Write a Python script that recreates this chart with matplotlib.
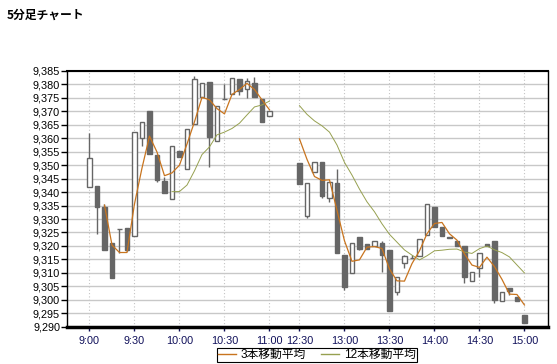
import numpy as np
import matplotlib
matplotlib.use("Agg")
import matplotlib.pyplot as plt
from matplotlib.lines import Line2D
from matplotlib.ticker import FuncFormatter

plt.rcParams['font.family'] = ['Liberation Sans', 'Noto Sans CJK JP', 'DejaVu Sans']

# 5-minute bars, morning session then afternoon session
am_times = ["9:00", "9:05", "9:10", "9:15", "9:20", "9:25", "9:30", "9:35", "9:40", "9:45",
            "9:50", "9:55", "10:00", "10:05", "10:10", "10:15", "10:20", "10:25", "10:30",
            "10:35", "10:40", "10:45", "10:50", "10:55", "11:00"]
pm_times = ["12:30", "12:35", "12:40", "12:45", "12:50", "12:55", "13:00", "13:05", "13:10",
            "13:15", "13:20", "13:25", "13:30", "13:35", "13:40", "13:45", "13:50", "13:55",
            "14:00", "14:05", "14:10", "14:15", "14:20", "14:25", "14:30", "14:35", "14:40",
            "14:45", "14:50", "14:55", "15:00"]

opens = [9342.0, 9342.3, 9334.6, 9321.0, 9326.3, 9326.5, 9323.6, 9360.0, 9370.1, 9353.8,
         9344.3, 9337.3, 9355.3, 9348.5, 9365.2, 9375.2, 9380.8, 9359.0, 9374.5,
         9376.3, 9382.0, 9378.3, 9380.4, 9374.5, 9368.3,
         9350.7, 9331.3, 9347.4, 9351.1, 9338.0, 9343.3, 9316.5, 9309.9, 9323.2,
         9320.7, 9319.8, 9321.0, 9318.5, 9303.0, 9313.6, 9315.5, 9316.3, 9324.1,
         9334.4, 9326.9, 9323.5, 9322.0, 9319.8, 9306.8, 9311.7, 9320.6, 9322.0,
         9299.6, 9304.5, 9301.0, 9294.4]
highs = [9362.0, 9342.3, 9335.5, 9321.0, 9326.3, 9326.5, 9362.2, 9366.2, 9370.1, 9353.8,
         9345.5, 9357.1, 9355.3, 9363.3, 9383.1, 9380.4, 9380.8, 9372.1, 9380.0,
         9382.3, 9382.0, 9382.5, 9382.9, 9374.5, 9370.3,
         9350.7, 9343.3, 9351.1, 9351.1, 9343.9, 9348.6, 9316.5, 9321.0, 9323.2,
         9320.7, 9321.7, 9322.0, 9318.5, 9308.4, 9316.6, 9316.5, 9322.6, 9335.5,
         9334.4, 9326.9, 9323.5, 9322.0, 9319.8, 9310.5, 9317.2, 9320.6, 9322.0,
         9303.0, 9304.5, 9301.0, 9294.4]
lows = [9342.0, 9324.5, 9318.4, 9308.0, 9317.3, 9318.0, 9323.6, 9357.1, 9354.0, 9343.9,
        9339.8, 9337.3, 9353.2, 9348.5, 9365.2, 9375.2, 9349.5, 9359.0, 9374.5,
        9376.3, 9376.1, 9374.8, 9375.5, 9366.0, 9368.3,
        9343.0, 9330.3, 9347.4, 9338.0, 9336.5, 9317.2, 9303.7, 9309.9, 9318.5,
        9318.8, 9319.8, 9310.2, 9296.0, 9301.8, 9311.7, 9315.5, 9316.3, 9324.1,
        9326.9, 9323.8, 9322.9, 9319.8, 9306.1, 9306.8, 9308.4, 9319.8, 9298.7,
        9299.6, 9301.8, 9299.6, 9291.3]
closes = [9352.5, 9334.6, 9318.4, 9308.0, 9326.3, 9318.4, 9362.2, 9366.2, 9354.0, 9344.5,
          9339.8, 9357.1, 9353.2, 9363.3, 9381.9, 9380.4, 9360.6, 9372.1, 9374.5,
          9382.3, 9377.6, 9381.3, 9375.5, 9366.0, 9370.3,
          9343.0, 9343.3, 9351.1, 9338.7, 9343.9, 9317.2, 9304.7, 9321.0, 9318.8,
          9318.8, 9321.7, 9316.7, 9296.0, 9308.4, 9316.4, 9315.5, 9322.6, 9335.5,
          9326.9, 9323.8, 9322.9, 9319.8, 9308.4, 9310.5, 9317.2, 9319.8, 9300.0,
          9303.0, 9303.3, 9299.6, 9291.3]

label_times = ["9:00", "9:30", "10:00", "10:30", "11:00", "12:30",
               "13:00", "13:30", "14:00", "14:30", "15:00"]


def to_min(t):
    h, m = t.split(":")
    return int(h) * 60 + int(m)


# slot positions: lunch break shown as a 3-slot gap
gap = 3
slot = {}
for t in am_times:
    slot[t] = (to_min(t) - to_min("9:00")) // 5
for t in pm_times:
    slot[t] = len(am_times) + gap + (to_min(t) - to_min("12:30")) // 5

times = am_times + pm_times
x = np.array([slot[t] for t in times], dtype=float)
o = np.array(opens)
h = np.array(highs)
l = np.array(lows)
c = np.array(closes)


def moving_avg(vals, n):
    out = np.full(len(vals), np.nan)
    for i in range(n - 1, len(vals)):
        out[i] = vals[i - n + 1:i + 1].mean()
    return out


ma3 = moving_avg(c, 3)
ma12 = moving_avg(c, 12)

# break the lines across the lunch gap
n_am = len(am_times)
x_line = np.concatenate([x[:n_am], [np.nan], x[n_am:]])
ma3_line = np.concatenate([ma3[:n_am], [np.nan], ma3[n_am:]])
ma12_line = np.concatenate([ma12[:n_am], [np.nan], ma12[n_am:]])

col_ma3 = '#c8741e'
col_ma12 = '#96a050'

fig = plt.figure(figsize=(5.57, 3.64), dpi=100)
ax = fig.add_axes([67 / 557, 1 - 326.7 / 364, 480.7 / 557, 255.7 / 364])

candle_col = '#666666'
up = c >= o
ax.vlines(x, l, h, color=candle_col, lw=1, zorder=3)
ax.bar(x[up], (c - o)[up], bottom=o[up], width=0.6, color='white',
       edgecolor=candle_col, linewidth=1, zorder=4)
ax.bar(x[~up], (o - c)[~up], bottom=c[~up], width=0.6, color=candle_col,
       edgecolor=candle_col, linewidth=1, zorder=4)

ax.plot(x_line, ma12_line, color=col_ma12, lw=0.7, zorder=5)
ax.plot(x_line, ma3_line, color=col_ma3, lw=0.9, zorder=6)

ax.set_xlim(-3, 61.1)
ax.set_ylim(9290, 9385)
ax.set_yticks(np.arange(9290, 9386, 5))
ax.yaxis.set_major_formatter(FuncFormatter(lambda v, p: f"{v:,.0f}"))
ax.set_xticks([slot[t] for t in label_times])
ax.set_xticklabels(label_times, color='#10105a')

ax.tick_params(axis='y', length=4, width=1, labelsize=7.8, pad=1, color='black')
ax.tick_params(axis='x', length=3, width=1, labelsize=7.8, pad=4, color='#10105a')

ax.grid(axis='y', color='#c8c8c8', lw=1, ls='-', zorder=0)
ax.grid(axis='x', color='#c4c4c4', lw=0.8, ls=(0, (1, 2)), zorder=0)
ax.set_axisbelow(True)

ax.spines['top'].set_linewidth(1.5)
ax.spines['bottom'].set_linewidth(2.5)
ax.spines['left'].set_linewidth(1)
ax.spines['right'].set_linewidth(1)

fig.text(7 / 557, 1 - 15 / 364, "5分足チャート", fontsize=8.5, fontweight='bold',
         va='center', ha='left', family=['Noto Sans CJK JP', 'DejaVu Sans'])

handles = [Line2D([], [], color=col_ma3, lw=1), Line2D([], [], color=col_ma12, lw=1)]
leg = fig.legend(handles, ["3本移動平均", "12本移動平均"], loc='center',
                 bbox_to_anchor=(317 / 557, 1 - 355 / 364), ncol=2, fontsize=8.5,
                 frameon=True, fancybox=False, edgecolor='black', framealpha=1,
                 handlelength=1.5, handletextpad=0.4, columnspacing=1.3,
                 borderpad=0.1, borderaxespad=0)
leg.get_frame().set_linewidth(0.8)

fig.savefig("out.png", dpi=100)
